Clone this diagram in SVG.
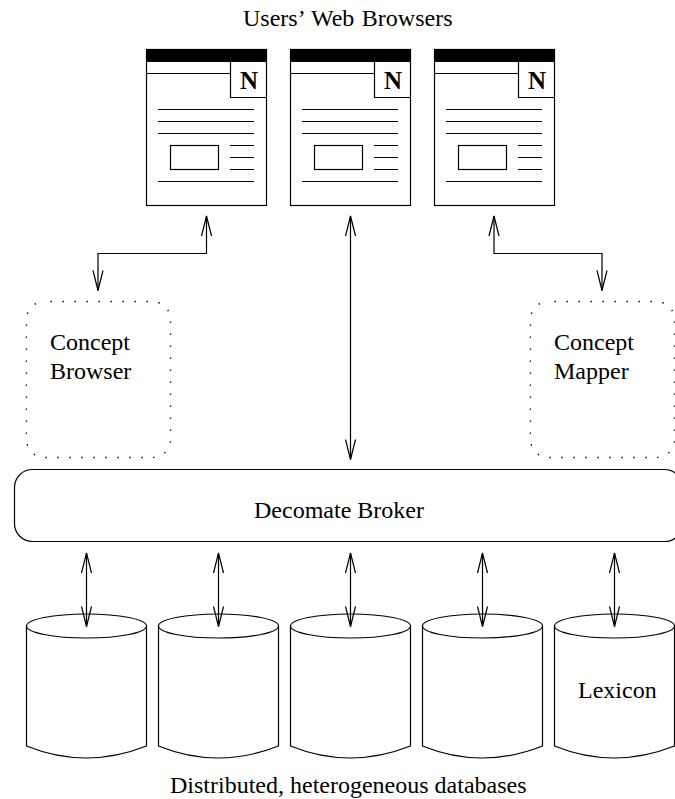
<svg xmlns="http://www.w3.org/2000/svg" width="675" height="799" viewBox="0 0 675 799">
<style>
text{font-family:"Liberation Serif","Times New Roman",serif;font-size:24px;fill:#000}
.s{fill:none;stroke:#000;stroke-width:1.2}
.d{fill:none;stroke:#000;stroke-width:1.4;stroke-dasharray:1.4 10.6;stroke-dashoffset:6}
.w{fill:#fff;stroke:#000;stroke-width:1.2}
</style>
<defs>
<marker id="a" markerUnits="userSpaceOnUse" markerWidth="22" markerHeight="12" viewBox="-21 -6 22 12" refX="0" refY="0" orient="auto-start-reverse"><path d="M-20-5L0 0L-20 5" fill="none" stroke="#000" stroke-width="1.2"/></marker>
<g id="browser">
<rect class="w" x="146.500" y="49.500" width="120" height="156"/>
<rect x="146" y="49" width="121" height="13"/>
<path class="s" d="M146.500 73.500H230.500M230.500 61.500V97.500H266.500M158 109.500H254M158 121.500H254M158 133.500H254M230 145.500H254M230 157.500H254M230 169.500H254M158 181.500H254"/>
<rect class="s" x="170.500" y="145.500" width="48" height="24"/>
<text x="249" y="88.500" text-anchor="middle" style="font-weight:bold;font-size:25px">N</text>
</g>
<g id="cyl">
<path class="w" d="M26.500 626V746C66 762 106 762 146.500 746V626Z"/>
<ellipse class="w" cx="86.500" cy="626" rx="60" ry="12"/>
</g>
</defs>
<text x="243" y="26" style="word-spacing:1.5px">Users’ Web Browsers</text>
<g id="browser1"><use href="#browser"/></g>
<g id="browser2"><use href="#browser" x="144"/></g>
<g id="browser3"><use href="#browser" x="288"/></g>
<g id="concept-browser"><rect class="d" x="26.500" y="301.500" width="144" height="156" rx="18"/><text x="50" y="350">Concept</text><text x="50" y="379">Browser</text></g>
<g id="concept-mapper"><rect class="d" x="530.500" y="301.500" width="144" height="156" rx="18"/><text x="554" y="350">Concept</text><text x="554" y="379">Mapper</text></g>
<g id="broker"><rect class="w" x="14.500" y="469.500" width="668" height="72" rx="18"/><text x="254" y="518">Decomate Broker</text></g>
<g id="db1"><use href="#cyl"/></g>
<g id="db2"><use href="#cyl" x="132"/></g>
<g id="db3"><use href="#cyl" x="264"/></g>
<g id="db4"><use href="#cyl" x="396"/></g>
<g id="lexicon"><use href="#cyl" x="528"/><text x="578" y="698">Lexicon</text></g>
<g id="connectors">
<path class="s" d="M206.500 216V253.500H98V290.500" marker-start="url(#a)" marker-end="url(#a)"/>
<path class="s" d="M350.500 216V459.500" marker-start="url(#a)" marker-end="url(#a)"/>
<path class="s" d="M494 216V253.500H602V290.500" marker-start="url(#a)" marker-end="url(#a)"/>
<path class="s" d="M86.500 553V626.500" marker-start="url(#a)" marker-end="url(#a)"/>
<path class="s" d="M218.500 553V626.500" marker-start="url(#a)" marker-end="url(#a)"/>
<path class="s" d="M350.500 553V626.500" marker-start="url(#a)" marker-end="url(#a)"/>
<path class="s" d="M482.500 553V626.500" marker-start="url(#a)" marker-end="url(#a)"/>
<path class="s" d="M614.500 553V626.500" marker-start="url(#a)" marker-end="url(#a)"/>
</g>
<text x="170" y="793">Distributed, heterogeneous databases</text>
</svg>
